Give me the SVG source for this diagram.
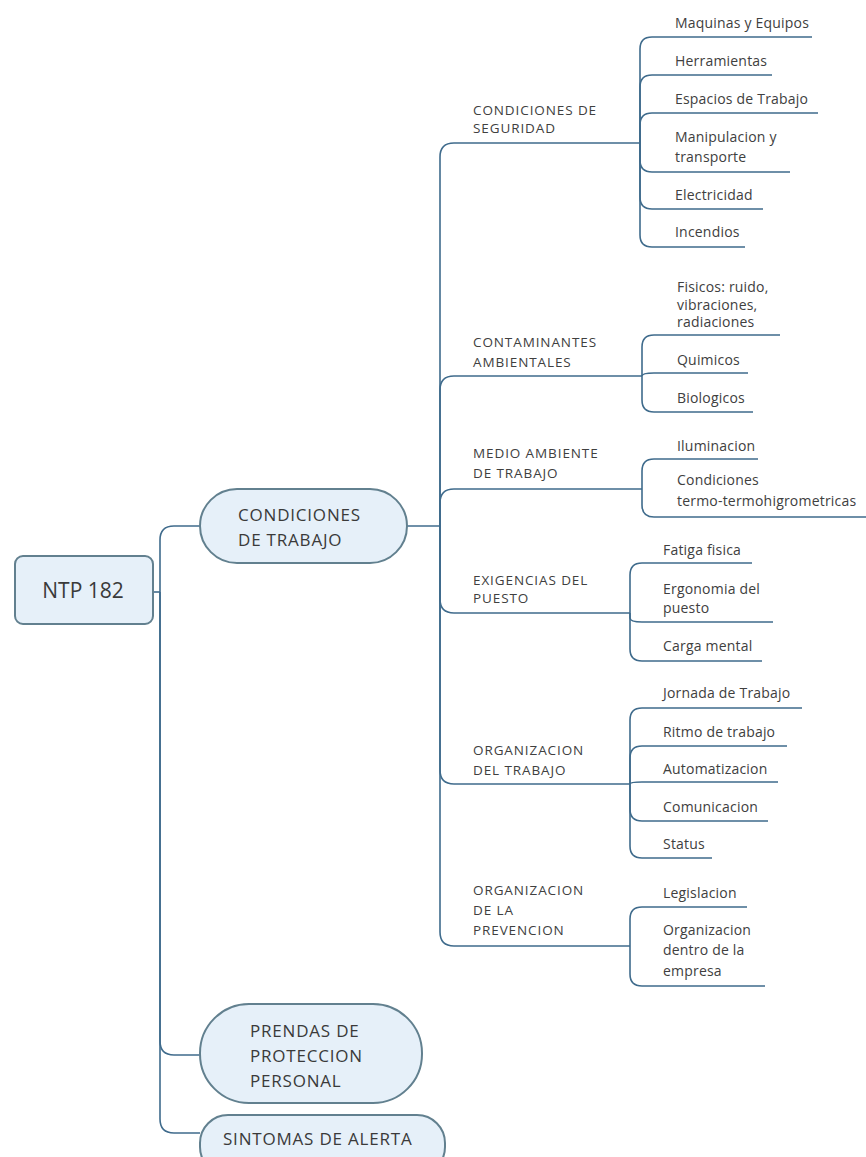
<svg xmlns="http://www.w3.org/2000/svg" width="866" height="1157" viewBox="0 0 866 1157">
<defs>
<style>
.ln{fill:none;stroke:#3f6b8c;stroke-width:1.6}
.nd{fill:#e6f0f9;stroke:#62808f;stroke-width:2}
.t1{font-family:"Open Sans","Noto Sans",sans-serif;font-size:21px;fill:#3a3a3a}
.t2{font-family:"Open Sans","Noto Sans",sans-serif;font-size:17px;letter-spacing:0.8px;fill:#3a3a3a}
.t3{font-family:"Open Sans","Noto Sans",sans-serif;font-size:14px;letter-spacing:0.2px;fill:#404040}
.t4{font-family:"Open Sans","Noto Sans",sans-serif;font-size:13.5px;letter-spacing:0.9px;fill:#404040}
</style>
</defs>
<rect width="866" height="1157" fill="#ffffff"/>
<g id="connectors">
<path class="ln" d="M153,592 H160"/>
<path class="ln" d="M160,592 V540 Q160,526 174,526 H200"/>
<path class="ln" d="M160,592 V1041 Q160,1055 174,1055 H200"/>
<path class="ln" d="M160,592 V1119 Q160,1133 174,1133 H200"/>
<path class="ln" d="M407,526 H440"/>
<path class="ln" d="M440,526 V157 Q440,143 454,143 H640"/>
<path class="ln" d="M440,526 V390 Q440,376 454,376 H642"/>
<path class="ln" d="M440,526 V503 Q440,489 454,489 H642"/>
<path class="ln" d="M440,526 V599 Q440,613 454,613 H630"/>
<path class="ln" d="M440,526 V770 Q440,784 454,784 H630"/>
<path class="ln" d="M440,526 V932 Q440,946 454,946 H630"/>
<path class="ln" d="M640,143 V49 Q640,37 652,37 H812"/>
<path class="ln" d="M640,143 V87 Q640,75 652,75 H772"/>
<path class="ln" d="M640,143 V125 Q640,113 652,113 H818"/>
<path class="ln" d="M640,143 V160 Q640,172 652,172 H790"/>
<path class="ln" d="M640,143 V197 Q640,209 652,209 H763"/>
<path class="ln" d="M640,143 V235 Q640,247 652,247 H745"/>
<path class="ln" d="M642,376 V347 Q642,335 654,335 H780"/>
<path class="ln" d="M642,376 Q642,373 654,373 H748"/>
<path class="ln" d="M642,376 V400 Q642,412 654,412 H753"/>
<path class="ln" d="M642,489 V471 Q642,459 654,459 H758"/>
<path class="ln" d="M642,489 V505 Q642,517 654,517 H866"/>
<path class="ln" d="M630,613 V575 Q630,563 642,563 H752"/>
<path class="ln" d="M630,613 V618 Q630,622 642,622 H773"/>
<path class="ln" d="M630,613 V649 Q630,661 642,661 H762"/>
<path class="ln" d="M630,784 V720 Q630,708 642,708 H802"/>
<path class="ln" d="M630,784 V758 Q630,746 642,746 H787"/>
<path class="ln" d="M630,784 Q630,782 642,782 H778"/>
<path class="ln" d="M630,784 V809 Q630,821 642,821 H768"/>
<path class="ln" d="M630,784 V846 Q630,858 642,858 H712"/>
<path class="ln" d="M630,946 V919 Q630,907 642,907 H747"/>
<path class="ln" d="M630,946 V974 Q630,986 642,986 H765"/>
</g>
<g id="root">
<rect class="nd" x="15" y="556" width="138" height="68" rx="8"/>
<text class="t1" x="83" y="598" text-anchor="middle">NTP 182</text>
</g>
<g id="condiciones-trabajo">
<rect class="nd" x="200" y="489" width="207" height="74" rx="37"/>
<text class="t2" x="238" y="521">CONDICIONES</text>
<text class="t2" x="238" y="546">DE TRABAJO</text>
</g>
<g id="prendas">
<rect class="nd" x="200" y="1004" width="222" height="99" rx="49"/>
<text class="t2" x="250" y="1037">PRENDAS DE</text>
<text class="t2" x="250" y="1062">PROTECCION</text>
<text class="t2" x="250" y="1087">PERSONAL</text>
</g>
<g id="sintomas">
<rect class="nd" x="200" y="1115" width="245" height="60" rx="28"/>
<text class="t2" x="223" y="1145">SINTOMAS DE ALERTA</text>
</g>
<g id="cond-seguridad">
<text class="t4" x="473" y="115">CONDICIONES DE</text>
<text class="t4" x="473" y="133">SEGURIDAD</text>
</g>
<g id="contaminantes">
<text class="t4" x="473" y="347">CONTAMINANTES</text>
<text class="t4" x="473" y="367">AMBIENTALES</text>
</g>
<g id="medio-ambiente">
<text class="t4" x="473" y="458">MEDIO AMBIENTE</text>
<text class="t4" x="473" y="478">DE TRABAJO</text>
</g>
<g id="exigencias">
<text class="t4" x="473" y="585">EXIGENCIAS DEL</text>
<text class="t4" x="473" y="603">PUESTO</text>
</g>
<g id="org-trabajo">
<text class="t4" x="473" y="755">ORGANIZACION</text>
<text class="t4" x="473" y="775">DEL TRABAJO</text>
</g>
<g id="org-prevencion">
<text class="t4" x="473" y="895">ORGANIZACION</text>
<text class="t4" x="473" y="915">DE LA</text>
<text class="t4" x="473" y="935">PREVENCION</text>
</g>
<g id="maquinas"><text class="t3" x="675" y="28">Maquinas y Equipos</text></g>
<g id="herramientas"><text class="t3" x="675" y="66">Herramientas</text></g>
<g id="espacios"><text class="t3" x="675" y="104">Espacios de Trabajo</text></g>
<g id="manipulacion"><text class="t3" x="675" y="142">Manipulacion y</text><text class="t3" x="675" y="162">transporte</text></g>
<g id="electricidad"><text class="t3" x="675" y="200">Electricidad</text></g>
<g id="incendios"><text class="t3" x="675" y="237">Incendios</text></g>
<g id="fisicos"><text class="t3" x="677" y="292">Fisicos: ruido,</text><text class="t3" x="677" y="310">vibraciones,</text><text class="t3" x="677" y="327">radiaciones</text></g>
<g id="quimicos"><text class="t3" x="677" y="365">Quimicos</text></g>
<g id="biologicos"><text class="t3" x="677" y="403">Biologicos</text></g>
<g id="iluminacion"><text class="t3" x="677" y="451">Iluminacion</text></g>
<g id="termo"><text class="t3" x="677" y="485">Condiciones</text><text class="t3" x="677" y="506">termo-termohigrometricas</text></g>
<g id="fatiga"><text class="t3" x="663" y="555">Fatiga fisica</text></g>
<g id="ergonomia"><text class="t3" x="663" y="594">Ergonomia del</text><text class="t3" x="663" y="613">puesto</text></g>
<g id="carga"><text class="t3" x="663" y="651">Carga mental</text></g>
<g id="jornada"><text class="t3" x="663" y="698">Jornada de Trabajo</text></g>
<g id="ritmo"><text class="t3" x="663" y="737">Ritmo de trabajo</text></g>
<g id="automatizacion"><text class="t3" x="663" y="774">Automatizacion</text></g>
<g id="comunicacion"><text class="t3" x="663" y="812">Comunicacion</text></g>
<g id="status"><text class="t3" x="663" y="849">Status</text></g>
<g id="legislacion"><text class="t3" x="663" y="898">Legislacion</text></g>
<g id="org-empresa"><text class="t3" x="663" y="935">Organizacion</text><text class="t3" x="663" y="955">dentro de la</text><text class="t3" x="663" y="976">empresa</text></g>
</svg>
